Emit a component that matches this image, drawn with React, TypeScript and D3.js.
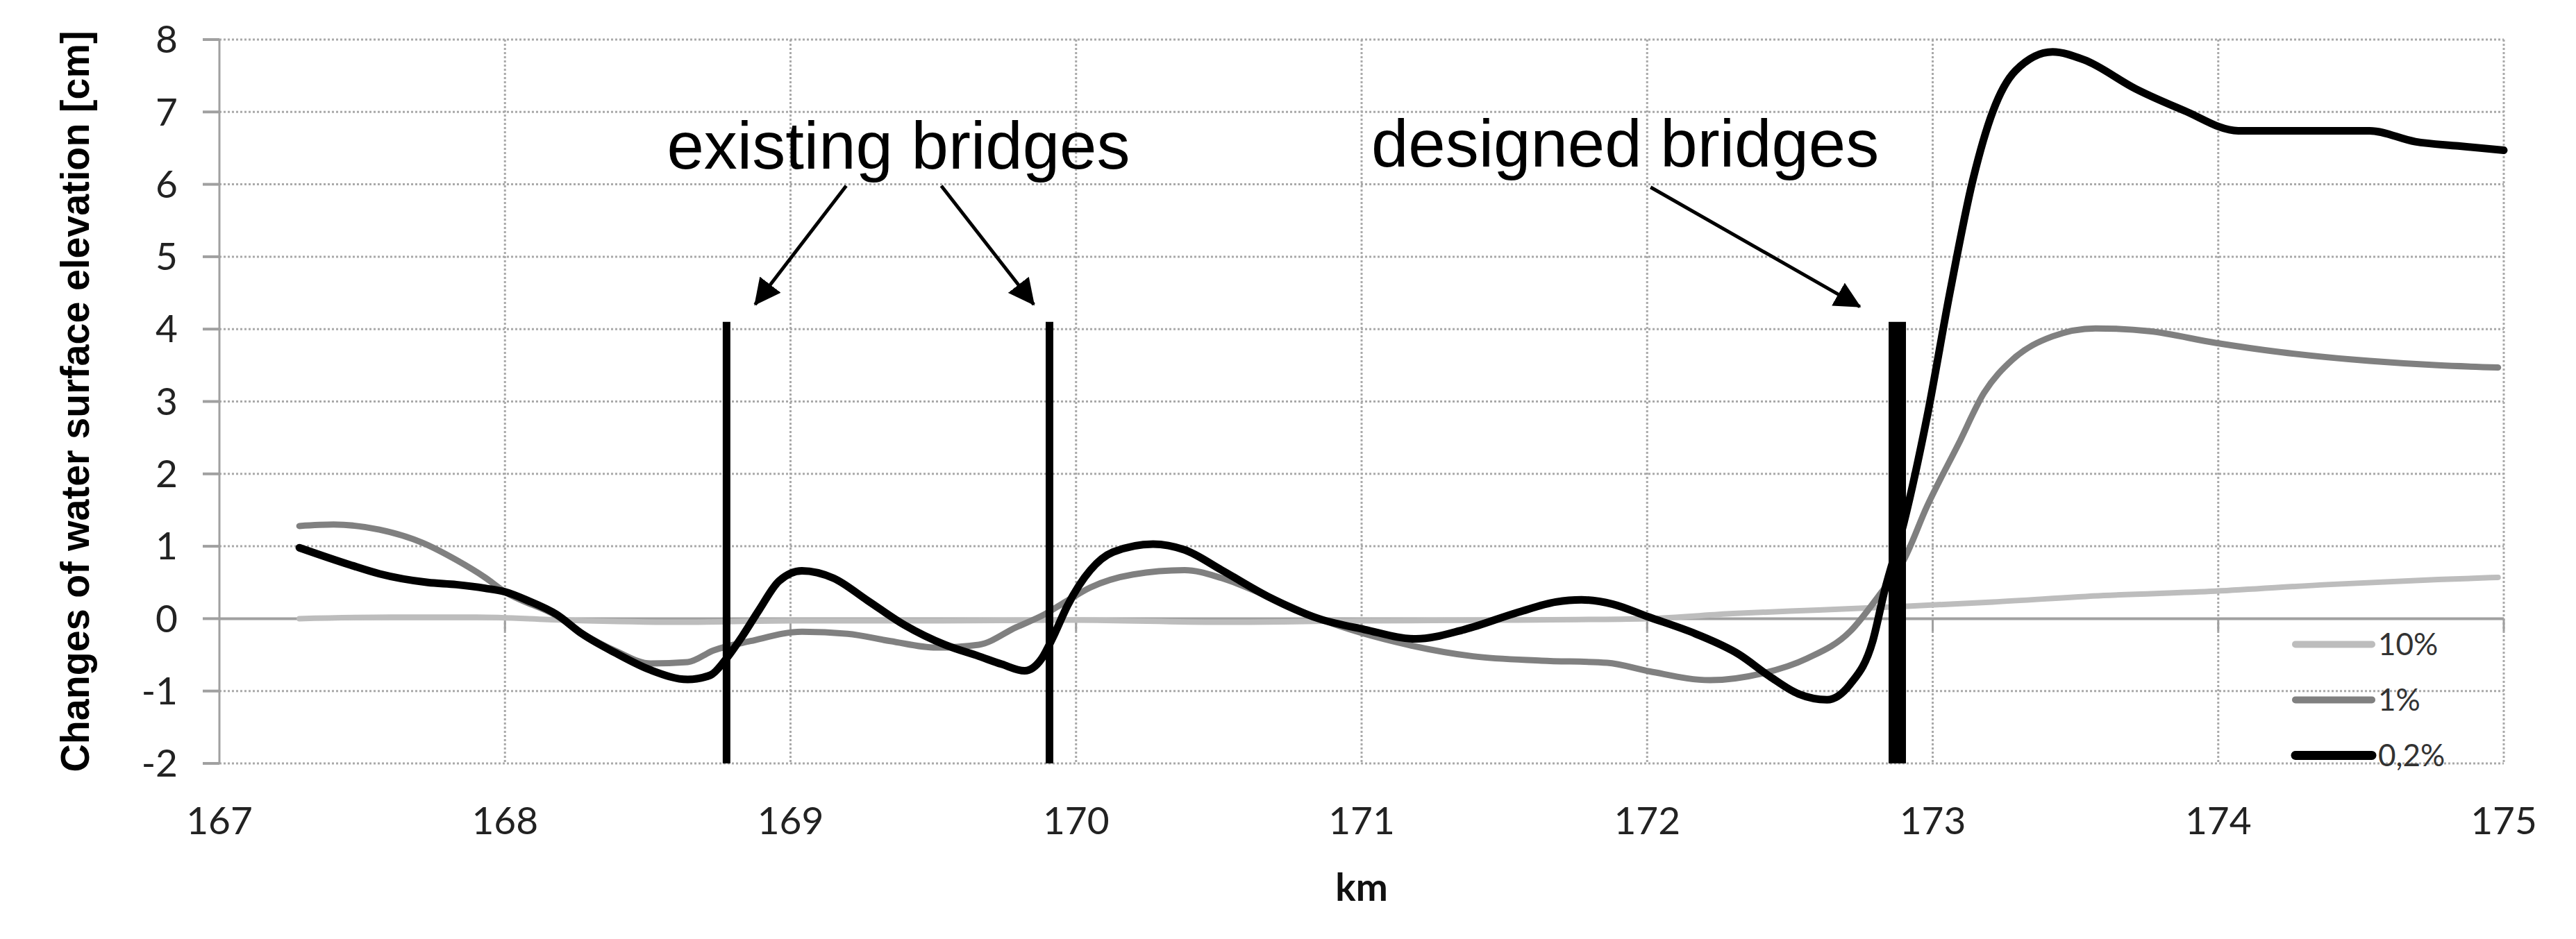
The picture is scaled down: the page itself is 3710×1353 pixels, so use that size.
import React, { useEffect, useRef } from 'react';
import * as d3 from 'd3';

// chart size (px) = reference picture size
const WIDTH = 3710;
const HEIGHT = 1353;

// axes
const kmTicks = [167, 168, 169, 170, 171, 172, 173, 174, 175];
const cmTicks = [-2, -1, 0, 1, 2, 3, 4, 5, 6, 7, 8];

// series: [km, change of water surface elevation in cm]
const series10 = [
  [167.28, 0.0], [167.6, 0.02], [167.9, 0.02], [168.2, -0.02], [168.6, -0.05],
  [169.0, -0.03], [169.5, -0.03], [170.0, -0.02], [170.5, -0.05], [171.0, -0.03],
  [171.5, -0.02], [172.0, 0.0], [172.3, 0.07], [172.6, 0.12], [172.9, 0.17],
  [173.21, 0.23], [173.6, 0.32], [173.99, 0.38], [174.38, 0.47], [174.77, 0.54],
  [174.98, 0.57],
];

const series1 = [
  [167.28, 1.28], [167.4, 1.3], [167.56, 1.23], [167.71, 1.05], [167.83, 0.81],
  [167.93, 0.57], [168.0, 0.37], [168.18, 0.04], [168.27, -0.2], [168.39, -0.45],
  [168.51, -0.62], [168.64, -0.6], [168.73, -0.44], [168.86, -0.31], [169.04, -0.18],
  [169.2, -0.21], [169.35, -0.31], [169.51, -0.4], [169.66, -0.36], [169.79, -0.12],
  [169.89, 0.06], [169.97, 0.25], [170.05, 0.43], [170.2, 0.61], [170.38, 0.67],
  [170.51, 0.56], [170.67, 0.31], [170.85, 0.0], [171.16, -0.36], [171.39, -0.52],
  [171.63, -0.58], [171.86, -0.61], [172.01, -0.73], [172.22, -0.85], [172.4, -0.76],
  [172.56, -0.55], [172.71, -0.18], [172.81, 0.31], [172.9, 0.82], [172.98, 1.55],
  [173.09, 2.41], [173.18, 3.12], [173.28, 3.58], [173.42, 3.9], [173.57, 4.01],
  [173.76, 3.97], [173.99, 3.81], [174.22, 3.68], [174.53, 3.56], [174.77, 3.5],
  [174.98, 3.47],
];

const series02 = [
  [167.28, 0.98], [167.46, 0.74], [167.56, 0.62], [167.73, 0.5], [167.83, 0.47],
  [167.93, 0.42], [168.0, 0.37], [168.08, 0.25], [168.18, 0.06], [168.27, -0.21],
  [168.39, -0.48], [168.51, -0.71], [168.64, -0.84], [168.72, -0.78], [168.77, -0.58],
  [168.83, -0.25], [168.89, 0.12], [168.96, 0.52], [169.04, 0.66], [169.15, 0.56],
  [169.27, 0.25], [169.4, -0.09], [169.54, -0.36], [169.66, -0.52], [169.74, -0.63],
  [169.82, -0.72], [169.88, -0.55], [169.92, -0.25], [169.97, 0.18], [170.05, 0.67],
  [170.13, 0.92], [170.27, 1.03], [170.38, 0.95], [170.51, 0.67], [170.67, 0.31],
  [170.85, 0.0], [171.01, -0.15], [171.19, -0.28], [171.36, -0.15], [171.55, 0.09],
  [171.68, 0.23], [171.77, 0.26], [171.88, 0.2], [172.0, 0.03], [172.17, -0.21],
  [172.32, -0.49], [172.43, -0.8], [172.53, -1.04], [172.63, -1.12], [172.71, -0.91],
  [172.79, -0.31], [172.83, 0.36], [172.9, 1.34], [172.98, 2.78], [173.06, 4.5],
  [173.14, 6.05], [173.21, 7.0], [173.29, 7.57], [173.42, 7.83], [173.53, 7.72],
  [173.71, 7.32], [173.88, 7.02], [174.07, 6.74], [174.53, 6.74], [174.69, 6.59],
  [174.84, 6.53], [175.0, 6.47],
];

const seriesNames = ['10%', '1%', '0,2%'];

// bridges: km position, top of the marker (cm)
const existingBridgesKm = [168.776, 169.907];
const designedBridgesKm = [172.876];
const bridgeTop = 4.1;

// annotation arrows: [fromKm, fromCm, toKm, toCm]
const existingArrows = [
  [169.195, 5.98, 168.876, 4.34],
  [169.528, 5.98, 169.852, 4.34],
];
const designedArrows = [[172.012, 5.96, 172.745, 4.31]];
// label anchors: [km, cm] of the text's left baseline
const existingLabel = [168.567, 6.22];
const designedLabel = [171.034, 6.25];

const margin = { top: 57, right: 104, bottom: 253, left: 316 };

function App() {
  const svgRef = useRef();

  useEffect(() => {
    const svg = d3.select(svgRef.current);
    svg.selectAll('*').remove();

    const x = d3.scaleLinear().domain([167, 175]).range([margin.left, WIDTH - margin.right]);
    const y = d3.scaleLinear().domain([-2, 8]).range([HEIGHT - margin.bottom, margin.top]);

    const gridColor = '#a9a9a9';
    const axisColor = '#a0a0a0';
    const tickFont = 'Lato, "Open Sans", sans-serif';

    svg.append('defs').append('marker')
      .attr('id', 'arrowhead')
      .attr('markerUnits', 'userSpaceOnUse')
      .attr('viewBox', '0 0 38 38')
      .attr('markerWidth', 38)
      .attr('markerHeight', 38)
      .attr('refX', 36)
      .attr('refY', 19)
      .attr('orient', 'auto')
      .append('path')
      .attr('d', 'M0,0 L38,19 L0,38 Z')
      .attr('fill', '#000');

    // grid
    const grid = svg.append('g');
    grid.selectAll('.hgrid')
      .data(cmTicks.filter(d => d !== 0))
      .join('line')
      .attr('x1', x(167)).attr('x2', x(175))
      .attr('y1', d => y(d)).attr('y2', d => y(d))
      .attr('stroke', gridColor).attr('stroke-width', 3).attr('stroke-dasharray', '3 3');
    grid.selectAll('.vgrid')
      .data(kmTicks.filter(d => d !== 167))
      .join('line')
      .attr('x1', d => x(d)).attr('x2', d => x(d))
      .attr('y1', y(8)).attr('y2', y(-2))
      .attr('stroke', gridColor).attr('stroke-width', 3).attr('stroke-dasharray', '3 3');

    // y axis
    const yAxis = svg.append('g').attr('transform', `translate(${x(167)},0)`);
    yAxis.append('line')
      .attr('y1', y(-2)).attr('y2', y(8))
      .attr('stroke', axisColor).attr('stroke-width', 3);
    yAxis.selectAll('.ytick')
      .data(cmTicks)
      .join('line')
      .attr('x1', -24).attr('x2', 0)
      .attr('y1', d => y(d)).attr('y2', d => y(d))
      .attr('stroke', axisColor).attr('stroke-width', 4);
    yAxis.selectAll('text')
      .data(cmTicks)
      .join('text')
      .attr('x', -60)
      .attr('y', d => y(d))
      .attr('dy', '0.35em')
      .attr('text-anchor', 'end')
      .attr('font-family', tickFont)
      .attr('font-size', 55)
      .attr('fill', '#222')
      .text(d => d);

    // x axis along zero
    const xAxis = svg.append('g').attr('transform', `translate(0,${y(0)})`);
    xAxis.append('line')
      .attr('x1', x(167)).attr('x2', x(175))
      .attr('stroke', axisColor).attr('stroke-width', 4);
    xAxis.selectAll('.xtick')
      .data(kmTicks.filter(d => d !== 167))
      .join('line')
      .attr('x1', d => x(d)).attr('x2', d => x(d))
      .attr('y1', 0).attr('y2', 18)
      .attr('stroke', axisColor).attr('stroke-width', 3);

    // x tick labels at the bottom
    svg.append('g').selectAll('text')
      .data(kmTicks)
      .join('text')
      .attr('x', d => x(d))
      .attr('y', y(-2) + 102)
      .attr('text-anchor', 'middle')
      .attr('font-family', tickFont)
      .attr('font-size', 55)
      .attr('fill', '#222')
      .text(d => d);

    svg.append('text')
      .attr('x', x(171))
      .attr('y', y(-2) + 198)
      .attr('text-anchor', 'middle')
      .attr('font-family', tickFont)
      .attr('font-weight', 'bold')
      .attr('font-size', 55)
      .attr('fill', '#111')
      .text('km');

    // axis title: tall glyphs, squeezed to the length seen in the original
    svg.append('text')
      .attr('transform', `translate(128,${(y(-2) + y(8)) / 2}) rotate(-90)`)
      .attr('text-anchor', 'middle')
      .attr('font-family', '"Liberation Sans", Arial, sans-serif')
      .attr('font-weight', 'bold')
      .attr('font-size', 58)
      .attr('textLength', 1068)
      .attr('lengthAdjust', 'spacingAndGlyphs')
      .attr('fill', '#000')
      .text('Changes of water surface elevation [cm]');

    // series
    const line = d3.line()
      .x(d => x(d[0]))
      .y(d => y(d[1]))
      .curve(d3.curveMonotoneX);

    const styles = [
      { data: series10, color: '#bdbdbd', width: 8 },
      { data: series1, color: '#808080', width: 9 },
      { data: series02, color: '#000000', width: 11 },
    ];

    svg.append('g').selectAll('path')
      .data(styles)
      .join('path')
      .attr('d', d => line(d.data))
      .attr('fill', 'none')
      .attr('stroke', d => d.color)
      .attr('stroke-width', d => d.width)
      .attr('stroke-linejoin', 'round')
      .attr('stroke-linecap', 'round');

    // bridges
    const bridges = svg.append('g');
    bridges.selectAll('.existing')
      .data(existingBridgesKm)
      .join('line')
      .attr('x1', d => x(d)).attr('x2', d => x(d))
      .attr('y1', y(bridgeTop)).attr('y2', y(-2))
      .attr('stroke', '#000').attr('stroke-width', 11);
    bridges.selectAll('.designed')
      .data(designedBridgesKm)
      .join('rect')
      .attr('x', d => x(d) - 12.5)
      .attr('width', 25)
      .attr('y', y(bridgeTop))
      .attr('height', y(-2) - y(bridgeTop))
      .attr('fill', '#000');

    // annotations
    const notes = svg.append('g');
    notes.selectAll('line')
      .data(existingArrows.concat(designedArrows))
      .join('line')
      .attr('x1', d => x(d[0])).attr('y1', d => y(d[1]))
      .attr('x2', d => x(d[2])).attr('y2', d => y(d[3]))
      .attr('stroke', '#000').attr('stroke-width', 5)
      .attr('marker-end', 'url(#arrowhead)');

    notes.selectAll('text')
      .data([
        { pos: existingLabel, label: 'existing bridges' },
        { pos: designedLabel, label: 'designed bridges' },
      ])
      .join('text')
      .attr('x', d => x(d.pos[0]))
      .attr('y', d => y(d.pos[1]))
      .attr('font-family', '"Liberation Sans", Arial, sans-serif')
      .attr('font-size', 96)
      .attr('fill', '#000')
      .text(d => d.label);

    // legend
    const legend = svg.append('g')
      .attr('transform', `translate(${x(175) - 302},${y(0) + 37})`);
    const rows = legend.selectAll('g')
      .data(styles)
      .join('g')
      .attr('transform', (d, i) => `translate(0,${i * 80})`);
    rows.append('line')
      .attr('x1', 2).attr('x2', 112)
      .attr('stroke', d => d.color)
      .attr('stroke-width', (d, i) => (i === 2 ? 13 : 10))
      .attr('stroke-linecap', 'round');
    rows.append('text')
      .attr('x', 121)
      .attr('dy', '0.36em')
      .attr('font-family', tickFont)
      .attr('font-size', 44)
      .attr('fill', '#333')
      .text((d, i) => seriesNames[i]);
  });

  return (
    <svg
      ref={ svgRef }
      width={ WIDTH }
      height={ HEIGHT }
      style={{ position: 'absolute', left: 0, top: 0, background: '#fff' }}
    ></svg>
  );
}

export default App;
